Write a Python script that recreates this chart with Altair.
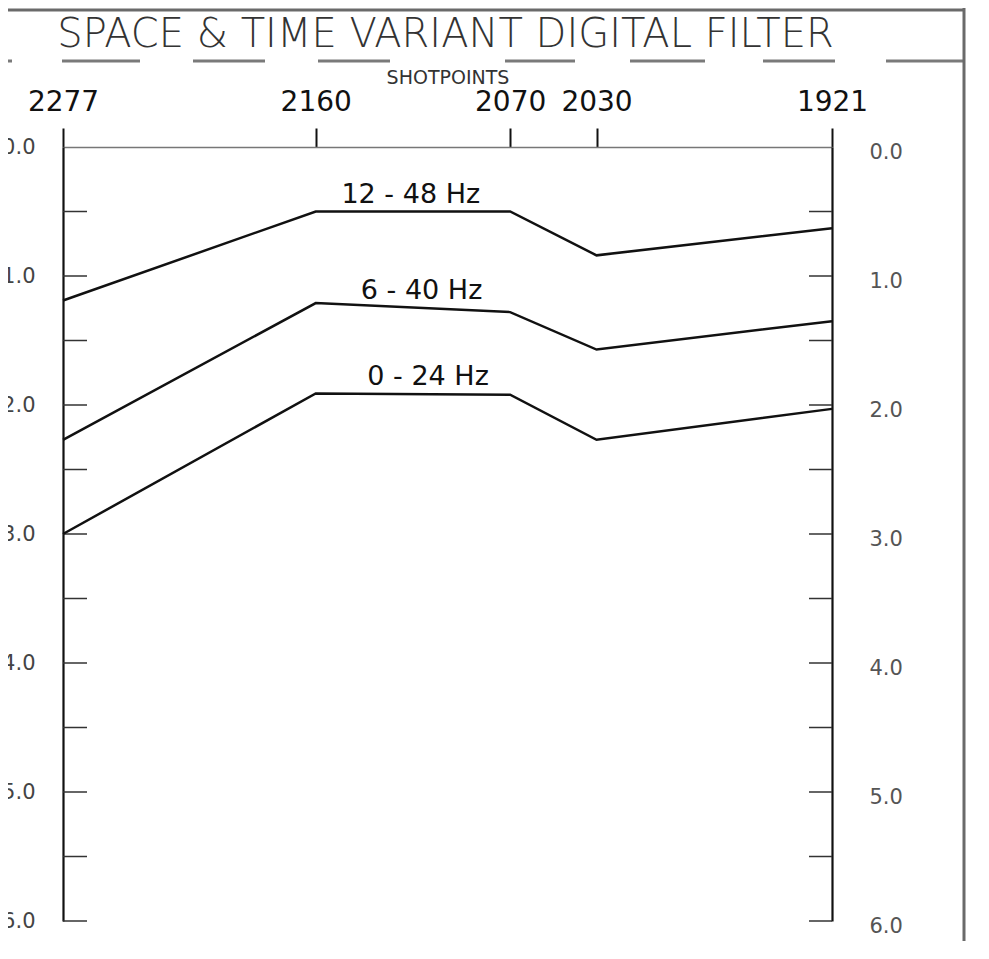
import altair as alt
import pandas as pd

# ---- data ----
shotpoints = [2277, 2160, 2070, 2030, 1921]
band_names = ["12 - 48 Hz", "6 - 40 Hz", "0 - 24 Hz"]
t_12_48 = [1.19, 0.50, 0.50, 0.84, 0.63]
t_6_40 = [2.27, 1.21, 1.28, 1.57, 1.35]
t_0_24 = [3.00, 1.91, 1.92, 2.27, 2.03]
label_shot = [2116, 2111, 2108]
time_labels = [0.0, 1.0, 2.0, 3.0, 4.0, 5.0, 6.0]
minor_ticks = [0.5, 1.0, 1.5, 2.0, 2.5, 3.0, 3.5, 4.0, 4.5, 5.0, 5.5, 6.0]
title_text = ["SPACE & TIME VARIANT DIGITAL FILTER"]
x_title = "SHOTPOINTS"

rows = []
for name, vals in zip(band_names, [t_12_48, t_6_40, t_0_24]):
    for s, v in zip(shotpoints, vals):
        rows.append({"band": name, "shot": s, "t": v})
lines_df = pd.DataFrame(rows)

label_rows = []
for name, vals, ls in zip(band_names, [t_12_48, t_6_40, t_0_24], label_shot):
    label_rows.append({"band": name, "shot": ls, "t": (vals[1] + vals[2]) / 2})
labels_df = pd.DataFrame(label_rows)
minor_df = pd.DataFrame({"t": minor_ticks})
one_df = pd.DataFrame({"k": [0]})
title_df = pd.DataFrame({"title": title_text})

W, H = 769, 774
FONT = "DejaVu Sans"

xs = alt.Scale(domain=[1921, 2277], reverse=True, nice=False, zero=False)
ys = alt.Scale(domain=[0, 6], reverse=True, nice=False, zero=False)

top_axis = alt.Axis(orient="top", values=shotpoints, format="d", title=x_title,
                    labelFont=FONT, labelFontSize=28, labelColor="#111",
                    labelPadding=12, tickSize=19, tickColor="#111", tickWidth=2,
                    domainColor="#777", domainWidth=1.5, grid=False,
                    titleFont=FONT, titleFontSize=19, titleFontWeight="normal",
                    titleColor="#333", titlePadding=1,
                    labelFlush=False, labelOverlap=False)
left_axis = alt.Axis(orient="left", values=time_labels, format=".1f", title=None,
                     ticks=False, domainColor="#111", domainWidth=2.2,
                     labelFont=FONT, labelFontSize=21, labelFontWeight="normal",
                     labelColor="#444", labelPadding=28, grid=False, labelOverlap=False)
right_axis = alt.Axis(orient="right", values=time_labels, format=".1f", title=None,
                      ticks=False, domainColor="#111", domainWidth=2.2,
                      labelFont=FONT, labelFontSize=21, labelFontWeight="normal",
                      labelColor="#555", labelPadding=37, labelOffset=5,
                      grid=False, labelOverlap=False)

lines = alt.Chart(lines_df).mark_line(color="#111", strokeWidth=2.5).encode(
    x=alt.X("shot:Q", scale=xs, axis=top_axis),
    y=alt.Y("t:Q", scale=ys, axis=left_axis),
    detail="band:N",
)

labels = alt.Chart(labels_df).mark_text(
    font=FONT, fontSize=27, color="#111", baseline="alphabetic", dy=-9
).encode(
    x=alt.X("shot:Q", scale=xs),
    y=alt.Y("t:Q", scale=ys, axis=None),
    text="band:N",
)

left_ticks = alt.Chart(minor_df).mark_rule(color="#333", strokeWidth=1.5).encode(
    y=alt.Y("t:Q", scale=ys, axis=None),
    x=alt.value(0), x2=alt.value(24),
)

right_ticks = alt.Chart(minor_df).mark_rule(color="#333", strokeWidth=1.5).encode(
    y=alt.Y("t:Q", scale=ys, axis=right_axis),
    x=alt.value(W - 23), x2=alt.value(W),
)

title = alt.Chart(title_df).mark_text(
    font=FONT, fontSize=40, fontWeight=200, color="#333",
    align="center", baseline="alphabetic",
).encode(x=alt.value(W / 2 - 2), y=alt.value(-100), text="title:N")

underline = alt.Chart(one_df).mark_rule(
    color="#7a7a7a", strokeWidth=3,
    strokeDash=[12, 50, 78, 53, 72, 53, 72, 115, 70, 55, 75, 58, 72, 51, 78],
).encode(x=alt.value(-63), x2=alt.value(901), y=alt.value(-86))

border_right = alt.Chart(one_df).mark_rule(color="#6a6a6a", strokeWidth=3).encode(
    x=alt.value(901), y=alt.value(-139), y2=alt.value(H + 40))
border_top = alt.Chart(one_df).mark_rule(color="#6a6a6a", strokeWidth=3).encode(
    x=alt.value(-55), x2=alt.value(901), y=alt.value(-137))

chart = alt.layer(
    underline, border_right, border_top, title, left_ticks, right_ticks, lines, labels
).resolve_axis(y="independent").properties(
    width=W, height=H,
    autosize=alt.AutoSizeParams(type="none"),
    padding={"left": 55, "top": 139, "right": 136, "bottom": 20},
    background="white",
).configure_view(stroke=None)

chart.save("out.html", embed_options={"renderer": "svg", "actions": False})
